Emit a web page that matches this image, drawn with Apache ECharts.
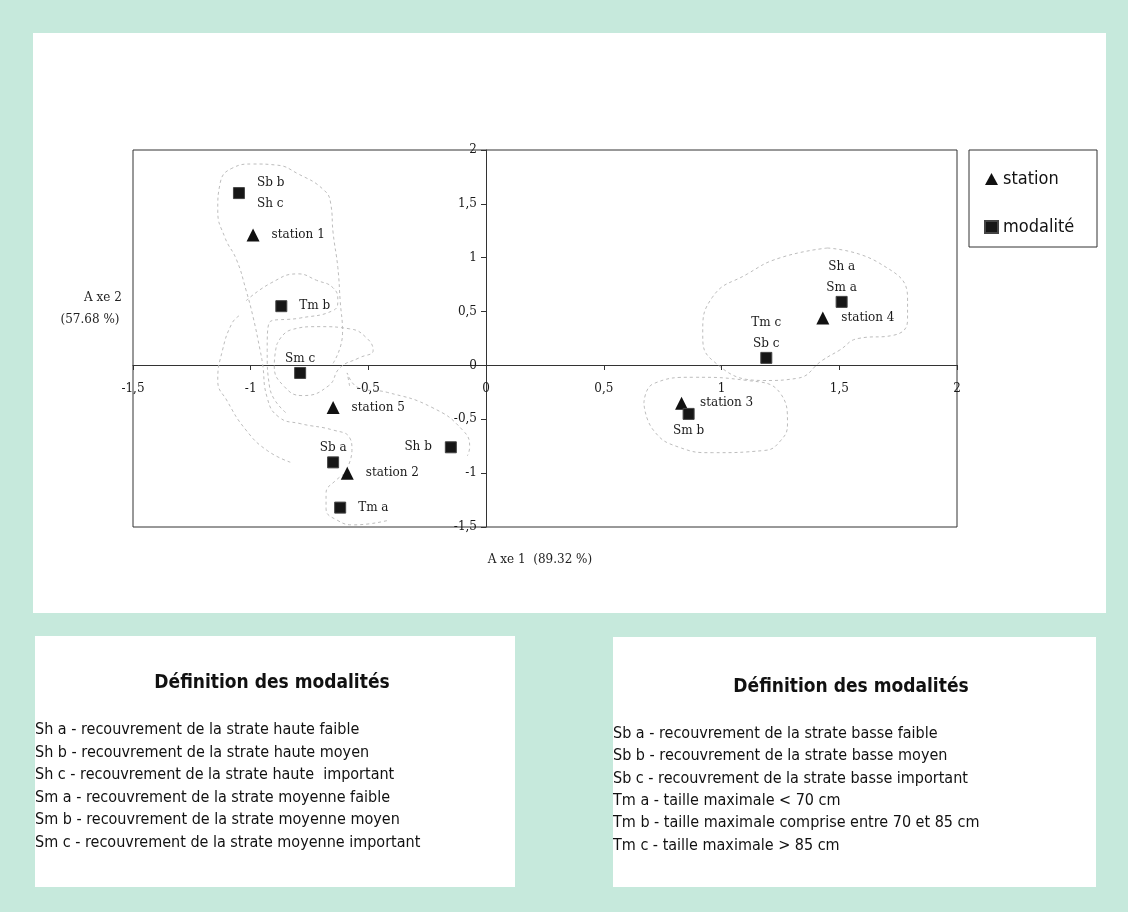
<!DOCTYPE html>
<html>
<head>
<meta charset="utf-8">
<script src="https://cdn.jsdelivr.net/npm/echarts@6/dist/echarts.min.js"></script>
<style>
  html, body { margin: 0; padding: 0; }
  #main { width: 1128px; height: 912px; }
</style>
</head>
<body>
<div id="main"></div>
<script>
// points of the factorial map (Axe 1 / Axe 2)
var stationNames = ['station 1', 'station 2', 'station 3', 'station 4', 'station 5'];
var stationX = [-0.99, -0.59, 0.83, 1.43, -0.65];
var stationY = [1.21, -1.00, -0.35, 0.44, -0.39];

var modaliteNames = ['Sb b\nSh c', 'Tm b', 'Sm c', 'Sb a', 'Tm a', 'Sh b', 'Tm c\nSb c', 'Sh a\nSm a', 'Sm b'];
var modaliteX = [-1.05, -0.87, -0.79, -0.65, -0.62, -0.15, 1.19, 1.51, 0.86];
var modaliteY = [1.60, 0.55, -0.07, -0.90, -1.32, -0.76, 0.07, 0.59, -0.45];

var tickValues = [-1.5, -1, -0.5, 0, 0.5, 1, 1.5, 2];

// hand drawn groupings (x, y pairs)
var contourA = [[-0.65, 0.02], [-0.61, 0.30], [-0.62, 0.60], [-0.63, 0.91], [-0.65, 1.23], [-0.66, 1.50], [-0.69, 1.63],
  [-0.80, 1.78], [-0.89, 1.86], [-0.99, 1.87], [-1.08, 1.83], [-1.13, 1.69], [-1.14, 1.44], [-1.11, 1.19], [-1.06, 0.98],
  [-1.02, 0.70], [-0.99, 0.45], [-0.96, 0.14], [-0.95, 0.02], [-0.93, -0.30], [-0.88, -0.48], [-0.79, -0.54],
  [-0.65, -0.60], [-0.58, -0.67], [-0.57, -0.79], [-0.59, -0.95]];
var contourB = [[-1.02, 0.60], [-0.91, 0.77], [-0.80, 0.85], [-0.72, 0.79], [-0.65, 0.72], [-0.63, 0.60], [-0.65, 0.51],
  [-0.79, 0.44], [-0.92, 0.40], [-0.93, 0.14], [-0.92, -0.20], [-0.85, -0.44]];
var contourC = [[-0.89, 0.19], [-0.83, 0.33], [-0.71, 0.36], [-0.58, 0.34], [-0.51, 0.26], [-0.48, 0.14], [-0.54, 0.07],
  [-0.62, -0.02], [-0.67, -0.19], [-0.78, -0.28], [-0.86, -0.19], [-0.90, 0.00], [-0.89, 0.19]];
var contourD = [[-1.05, 0.46], [-1.08, 0.39], [-1.12, 0.14], [-1.14, -0.14], [-1.10, -0.33], [-1.02, -0.60],
  [-0.93, -0.79], [-0.83, -0.90]];
var contourE = [[-0.58, -0.19], [-0.59, -0.07], [-0.54, -0.21], [-0.42, -0.25], [-0.23, -0.39], [-0.10, -0.60],
  [-0.07, -0.76], [-0.08, -0.84]];
var contourF = [[-0.58, -0.98], [-0.64, -1.07], [-0.68, -1.19], [-0.68, -1.33], [-0.63, -1.44], [-0.56, -1.48], [-0.42, -1.44]];
var contourG = [[1.45, 1.09], [1.67, 0.95], [1.79, 0.63], [1.79, 0.42], [1.73, 0.28], [1.58, 0.25], [1.50, 0.14],
  [1.43, 0.05], [1.32, -0.12], [1.18, -0.14], [0.96, 0.05], [0.92, 0.30], [0.96, 0.63], [1.11, 0.85], [1.25, 1.00], [1.45, 1.09]];
var contourH = [[0.67, -0.35], [0.71, -0.17], [0.88, -0.11], [1.11, -0.14], [1.25, -0.26], [1.28, -0.54], [1.25, -0.70],
  [1.18, -0.79], [0.96, -0.81], [0.82, -0.76], [0.71, -0.60], [0.67, -0.35]];

var defsLeft = [
  'Sh a - recouvrement de la strate haute faible',
  'Sh b - recouvrement de la strate haute moyen',
  'Sh c - recouvrement de la strate haute  important',
  'Sm a - recouvrement de la strate moyenne faible',
  'Sm b - recouvrement de la strate moyenne moyen',
  'Sm c - recouvrement de la strate moyenne important'
];
var defsRight = [
  'Sb a - recouvrement de la strate basse faible',
  'Sb b - recouvrement de la strate basse moyen',
  'Sb c - recouvrement de la strate basse important',
  'Tm a - taille maximale < 70 cm',
  'Tm b - taille maximale comprise entre 70 et 85 cm',
  'Tm c - taille maximale > 85 cm'
];

var serifFont = "'DejaVu Serif', 'Liberation Serif', serif";
var narrowFont = "'Liberation Sans Narrow', 'DejaVu Sans Condensed', 'Liberation Sans', sans-serif";

var labelPos = {
  'Sb b\nSh c': 'right', 'Tm b': 'right', 'Sm c': 'top', 'Sb a': 'top', 'Tm a': 'right',
  'Sh b': 'left', 'Tm c\nSb c': 'top', 'Sh a\nSm a': 'top', 'Sm b': 'bottom'
};
var labelDist = { right: 12, left: 13, top: -2, bottom: 0 };

function fmt(v) {
  return String(v).replace('.', ',');
}

var stationData = stationNames.map(function (n, i) {
  return { name: n, value: [stationX[i], stationY[i]] };
});
var modaliteData = modaliteNames.map(function (n, i) {
  var p = labelPos[n];
  return { name: n, value: [modaliteX[i], modaliteY[i]], label: { position: p, distance: labelDist[p] } };
});

function contour(pts) {
  return {
    type: 'line',
    data: pts,
    smooth: 0.5,
    symbol: 'none',
    silent: true,
    z: 1,
    lineStyle: { color: '#bdbdbd', width: 1, type: [3, 3] }
  };
}

var dom = document.getElementById('main');
var myChart = echarts.init(dom);

var graphics = [
  { type: 'rect', shape: { x: 33, y: 33, width: 1073, height: 580 }, style: { fill: '#ffffff' }, z: -100 },
  { type: 'rect', shape: { x: 35, y: 636, width: 480, height: 251 }, style: { fill: '#ffffff' }, z: -100 },
  { type: 'rect', shape: { x: 613, y: 637, width: 483, height: 250 }, style: { fill: '#ffffff' }, z: -100 },
  // legend frame
  { type: 'rect', shape: { x: 969, y: 150, width: 128, height: 97 }, style: { fill: 'none', stroke: '#333', lineWidth: 1 }, z: 5 },
  // axis names
  { type: 'text', x: 103, y: 298, style: { text: 'A xe 2', font: '12px ' + serifFont, fill: '#222', align: 'center', verticalAlign: 'middle' }, z: 10 },
  { type: 'text', x: 90, y: 320, style: { text: '(57.68 %)', font: '12px ' + serifFont, fill: '#222', align: 'center', verticalAlign: 'middle' }, z: 10 },
  { type: 'text', x: 540, y: 560, style: { text: 'A xe 1  (89.32 %)', font: '12px ' + serifFont, fill: '#222', align: 'center', verticalAlign: 'middle' }, z: 10 },
  // definitions
  { type: 'text', x: 272, y: 683, style: { text: 'Définition des modalités', font: 'bold 19px ' + narrowFont, fill: '#111', align: 'center', verticalAlign: 'middle' }, z: 10 },
  { type: 'text', x: 851, y: 687, style: { text: 'Définition des modalités', font: 'bold 19px ' + narrowFont, fill: '#111', align: 'center', verticalAlign: 'middle' }, z: 10 }
];
defsLeft.forEach(function (t, i) {
  graphics.push({ type: 'text', x: 35, y: 730 + i * 22.5, style: { text: t, font: '16px ' + narrowFont, fill: '#111', verticalAlign: 'middle' }, z: 10 });
});
defsRight.forEach(function (t, i) {
  graphics.push({ type: 'text', x: 613, y: 734 + i * 22.3, style: { text: t, font: '16px ' + narrowFont, fill: '#111', verticalAlign: 'middle' }, z: 10 });
});

var axisCommon = {
  type: 'value',
  min: tickValues[0],
  max: tickValues[tickValues.length - 1],
  interval: 0.5,
  splitLine: { show: false },
  axisLine: { show: true, onZero: false, lineStyle: { color: '#333', width: 1 } },
  axisTick: { show: true, length: 5, lineStyle: { color: '#333' } }
};

var option = {
  backgroundColor: '#c6e9dc',
  animation: false,
  graphic: graphics,
  legend: {
    data: [{ name: 'station', icon: 'triangle' }, { name: 'modalité', icon: 'rect' }],
    orient: 'vertical',
    left: 984,
    top: 170,
    padding: 0,
    itemGap: 30,
    itemWidth: 13,
    itemHeight: 12,
    itemStyle: { opacity: 1 },
    textStyle: { fontFamily: narrowFont, fontSize: 18, color: '#111' }
  },
  grid: {
    left: 133, top: 150, width: 824, height: 377,
    show: true, borderColor: '#333', borderWidth: 1, backgroundColor: 'transparent'
  },
  // axes are pushed inward so that they cross at (0, 0)
  xAxis: Object.assign({}, axisCommon, {
    position: 'bottom',
    offset: -162,
    axisLabel: { margin: 18, formatter: fmt, fontFamily: serifFont, fontSize: 12, color: '#1a1a1a' }
  }),
  yAxis: Object.assign({}, axisCommon, {
    position: 'left',
    offset: -353,
    axisLabel: { margin: 9, formatter: fmt, fontFamily: serifFont, fontSize: 12, color: '#1a1a1a' }
  }),
  series: [
    contour(contourA), contour(contourB), contour(contourC), contour(contourD),
    contour(contourE), contour(contourF), contour(contourG), contour(contourH),
    {
      name: 'station',
      type: 'scatter',
      symbol: 'triangle',
      symbolSize: 13,
      itemStyle: { color: '#111', opacity: 1 },
      z: 5,
      label: {
        show: true, position: 'right', distance: 12, formatter: '{b}',
        fontFamily: serifFont, fontSize: 12, color: '#1a1a1a'
      },
      data: stationData
    },
    {
      name: 'modalité',
      type: 'scatter',
      symbol: 'rect',
      symbolSize: 11,
      itemStyle: { color: '#161616', borderColor: '#444', borderWidth: 1, opacity: 1 },
      z: 5,
      label: {
        show: true, formatter: '{b}', lineHeight: 21,
        fontFamily: serifFont, fontSize: 12, color: '#1a1a1a'
      },
      data: modaliteData
    }
  ]
};

if (option && typeof option === 'object') {
  myChart.setOption(option, true);
}
</script>
</body>
</html>
